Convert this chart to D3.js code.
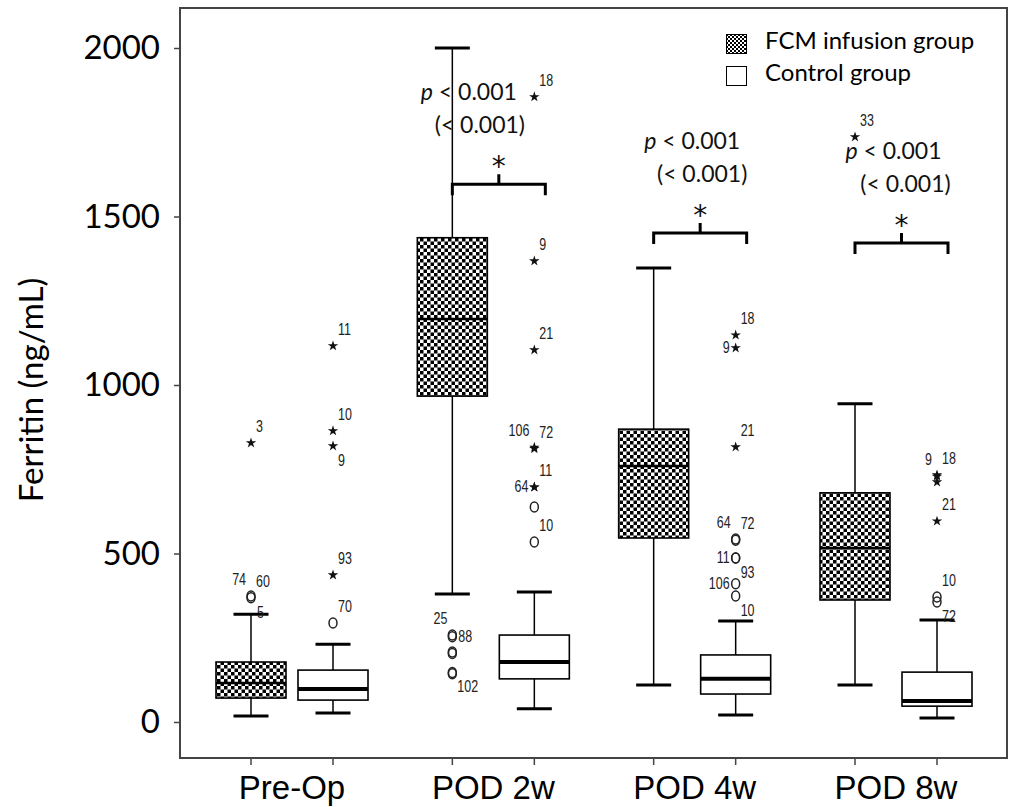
<!DOCTYPE html>
<html>
<head>
<meta charset="utf-8">
<title>Ferritin box plot</title>
<script src="https://d3js.org/d3.v7.min.js"></script>
<style>
  body { margin: 0; background: #fff; }
  .tick text { font-family: Lato, sans-serif; }
  .olabel { font-family: "Liberation Sans", Arial, sans-serif; font-size: 16px; fill: #222; }
  .ptext { font-family: Lato, sans-serif; font-size: 23px; fill: #111; }
</style>
</head>
<body>
<script>

// categories and groups
var categories = ["Pre-Op", "POD 2w", "POD 4w", "POD 8w"];
var groups = ["FCM infusion group", "Control group"];
var yTicks = [0, 500, 1000, 1500, 2000];

// [lower whisker, Q1, median, Q3, upper whisker] in ng/mL
var fcmBoxes = [
  [18, 71, 116, 178, 320],
  [380, 967, 1196, 1437, 2000],
  [110, 546, 760, 869, 1347],
  [110, 362, 516, 680, 944]
];
var controlBoxes = [
  [27, 65, 98, 154, 231],
  [39, 128, 178, 258, 386],
  [21, 83, 128, 199, 300],
  [12, 47, 62, 148, 303]
];

// outliers: [value, case id, marker, label side]
var fcmOutliers = [
  [[828, "3", "star", "ne"], [374, "74", "circle", "nw"], [369, "60", "circle", "ne"], [322, "5", "none", "e"]],
  [[258, "25", "circle", "nw"], [253, "88", "circle", "e"], [208, "", "circle", ""], [203, "", "circle", ""],
   [147, "102", "circle", "se"], [143, "", "circle", ""]],
  [],
  [[1736, "33", "star", "ne"]]
];
var controlOutliers = [
  [[1116, "11", "star", "ne"], [864, "10", "star", "ne"], [819, "9", "star", "se"], [436, "93", "star", "ne"], [294, "70", "circle", "ne"]],
  [[1855, "18", "star", "ne"], [1368, "9", "star", "ne"], [1104, "21", "star", "ne"], [815, "106", "star", "nw"],
   [811, "72", "star", "ne"], [697, "11", "star", "ne"], [697, "64", "star", "w"], [638, "", "circle", ""], [534, "10", "circle", "ne"]],
  [[1148, "18", "star", "ne"], [1110, "9", "star", "w"], [816, "21", "star", "ne"], [543, "64", "circle", "nw"],
   [539, "72", "circle", "ne"], [487, "11", "circle", "w"], [487, "93", "circle", "se"], [410, "106", "circle", "w"], [374, "10", "circle", "se"]],
  [[733, "18", "star", "ne"], [729, "9", "star", "nw"], [712, "", "star", ""], [596, "21", "star", "ne"],
   [371, "10", "circle", "ne"], [356, "72", "circle", "se"]]
];

// significance brackets
var pCategories = ["POD 2w", "POD 4w", "POD 8w"];
var pLevels = [1596, 1451, 1421];
var pLine1 = ["p", " < 0.001"];
var pLine2 = "(< 0.001)";

var W = 1010, H = 807;
var frame = {left: 180, top: 8, right: 1007, bottom: 758};

var svg = d3.select("body").append("svg")
  .attr("width", W).attr("height", H);

var defs = svg.append("defs");
var pat = defs.append("pattern").attr("id", "checker")
  .attr("patternUnits", "userSpaceOnUse").attr("width", 7).attr("height", 7);
pat.append("rect").attr("width", 7).attr("height", 7).attr("fill", "#fff");
pat.append("rect").attr("width", 3.5).attr("height", 3.5).attr("fill", "#000");
pat.append("rect").attr("x", 3.5).attr("y", 3.5).attr("width", 3.5).attr("height", 3.5).attr("fill", "#000");

var pat2 = defs.append("pattern").attr("id", "checkerSmall")
  .attr("patternUnits", "userSpaceOnUse").attr("width", 4).attr("height", 4);
pat2.append("rect").attr("width", 4).attr("height", 4).attr("fill", "#fff");
pat2.append("rect").attr("width", 2).attr("height", 2).attr("fill", "#000");
pat2.append("rect").attr("x", 2).attr("y", 2).attr("width", 2).attr("height", 2).attr("fill", "#000");

// scales
var y = d3.scaleLinear().domain([0, 2000]).range([722, 48]);
var x = d3.scalePoint().domain(categories).range([292, 896]);
var groupOffset = [-41, 41];
var boxW = 70, capW = 35;

// frame
svg.append("rect")
  .attr("x", frame.left).attr("y", frame.top)
  .attr("width", frame.right - frame.left).attr("height", frame.bottom - frame.top)
  .attr("fill", "none").attr("stroke", "#444").attr("stroke-width", 2);

// y axis
var yAxis = svg.append("g")
  .attr("transform", "translate(" + frame.left + ",0)")
  .call(d3.axisLeft(y).tickValues(yTicks).tickFormat(d3.format("d")).tickSize(6).tickPadding(14));
yAxis.select(".domain").remove();
yAxis.selectAll(".tick line").attr("stroke", "#444").attr("stroke-width", 1.5);
yAxis.selectAll(".tick text").attr("font-size", 33).attr("fill", "#000");

svg.append("text")
  .attr("transform", "translate(43,390) rotate(-90)")
  .attr("text-anchor", "middle")
  .attr("font-family", "Lato, sans-serif")
  .attr("font-size", 33)
  .text("Ferritin (ng/mL)");

// x axis: ticks at every box, labels at category
var boxKeys = [];
categories.forEach(function(c) { groups.forEach(function(g) { boxKeys.push(c + "|" + g); }); });
var xBox = function(c, gi) { return x(c) + groupOffset[gi]; };

var xAxis = svg.append("g").attr("transform", "translate(0," + frame.bottom + ")");
xAxis.selectAll("line").data(boxKeys).enter().append("line")
  .attr("x1", function(k) { var p = k.split("|"); return xBox(p[0], groups.indexOf(p[1])); })
  .attr("x2", function(k) { var p = k.split("|"); return xBox(p[0], groups.indexOf(p[1])); })
  .attr("y1", 0).attr("y2", 7)
  .attr("stroke", "#444").attr("stroke-width", 1.5);
xAxis.selectAll("text").data(categories).enter().append("text")
  .attr("x", function(c) { return x(c); })
  .attr("y", 41)
  .attr("text-anchor", "middle")
  .attr("font-family", "'Liberation Sans', Arial, sans-serif")
  .attr("font-size", 33)
  .text(function(c) { return c; });

// boxes
function drawBox(stats, cat, gi) {
  var cx = xBox(cat, gi);
  var g = svg.append("g");
  // whisker
  g.append("line").attr("x1", cx).attr("x2", cx)
    .attr("y1", y(stats[0])).attr("y2", y(stats[4]))
    .attr("stroke", "#000").attr("stroke-width", 1.5);
  [stats[0], stats[4]].forEach(function(v) {
    g.append("line").attr("x1", cx - capW / 2).attr("x2", cx + capW / 2)
      .attr("y1", y(v)).attr("y2", y(v))
      .attr("stroke", "#000").attr("stroke-width", 3);
  });
  g.append("rect")
    .attr("x", cx - boxW / 2).attr("width", boxW)
    .attr("y", y(stats[3])).attr("height", y(stats[1]) - y(stats[3]))
    .attr("fill", gi === 0 ? "url(#checker)" : "#fff")
    .attr("stroke", "#000").attr("stroke-width", 1.6);
  g.append("line").attr("x1", cx - boxW / 2).attr("x2", cx + boxW / 2)
    .attr("y1", y(stats[2])).attr("y2", y(stats[2]))
    .attr("stroke", "#000").attr("stroke-width", gi === 0 ? 2.5 : 4);
}

var sides = {
  ne: {dx: 5, dy: -11, anchor: "start"},
  nw: {dx: -5, dy: -11, anchor: "end"},
  e:  {dx: 6, dy: 5, anchor: "start"},
  w:  {dx: -6, dy: 5, anchor: "end"},
  se: {dx: 5, dy: 20, anchor: "start"}
};
var star = d3.symbol().type(d3.symbolStar).size(34);

function drawOutliers(list, cat, gi) {
  var cx = xBox(cat, gi);
  var g = svg.append("g");
  list.forEach(function(o) {
    var cy = y(o[0]);
    if (o[2] === "star") {
      g.append("path").attr("d", star).attr("transform", "translate(" + cx + "," + cy + ")")
        .attr("fill", "#111");
    } else if (o[2] === "circle") {
      g.append("ellipse").attr("cx", cx).attr("cy", cy).attr("rx", 4).attr("ry", 5)
        .attr("fill", "none").attr("stroke", "#222").attr("stroke-width", 1.5);
    }
    if (o[1] !== "") {
      var s = sides[o[3]];
      // narrow look: squeeze the label horizontally
      g.append("text").attr("class", "olabel")
        .attr("transform", "translate(" + (cx + s.dx) + "," + (cy + s.dy) + ") scale(0.78,1)")
        .attr("text-anchor", s.anchor)
        .text(o[1]);
    }
  });
}

categories.forEach(function(c, i) {
  drawBox(fcmBoxes[i], c, 0);
  drawBox(controlBoxes[i], c, 1);
  drawOutliers(fcmOutliers[i], c, 0);
  drawOutliers(controlOutliers[i], c, 1);
});

// significance brackets and p-values
var textNudge = [[-30, -19], [-8, 2], [-8, 4]];
pCategories.forEach(function(c, i) {
  var by = y(pLevels[i]);
  var x0 = x(c) - 41, x1 = x(c) + 52, xm = (x0 + x1) / 2;
  svg.append("path")
    .attr("d", "M" + x0 + "," + (by + 11) + "V" + by + "H" + x1 + "V" + (by + 11) +
               "M" + xm + "," + by + "V" + (by - 10))
    .attr("fill", "none").attr("stroke", "#000").attr("stroke-width", 3);
  svg.append("text")
    .attr("x", xm).attr("y", by - 8)
    .attr("text-anchor", "middle")
    .attr("font-family", "'DejaVu Sans', sans-serif").attr("font-size", 28)
    .attr("fill", "#111")
    .text("*");
  var t1 = svg.append("text").attr("class", "ptext")
    .attr("x", xm + textNudge[i][0]).attr("y", by - 84)
    .attr("text-anchor", "middle");
  t1.append("tspan").attr("font-style", "italic").text(pLine1[0]);
  t1.append("tspan").text(pLine1[1]);
  svg.append("text").attr("class", "ptext")
    .attr("x", xm + textNudge[i][1]).attr("y", by - 51)
    .attr("text-anchor", "middle")
    .text(pLine2);
});

// legend
var legend = svg.append("g").attr("transform", "translate(726,34)");
groups.forEach(function(gname, i) {
  legend.append("rect")
    .attr("x", 0.5).attr("y", i * 32 + 0.5).attr("width", 20).attr("height", 19)
    .attr("fill", i === 0 ? "url(#checkerSmall)" : "#fff")
    .attr("stroke", "#000").attr("stroke-width", 1);
  legend.append("text")
    .attr("x", 39).attr("y", i * 32 + 15)
    .attr("font-family", "Lato, sans-serif").attr("font-size", 24)
    .text(gname);
});

</script>
</body>
</html>
